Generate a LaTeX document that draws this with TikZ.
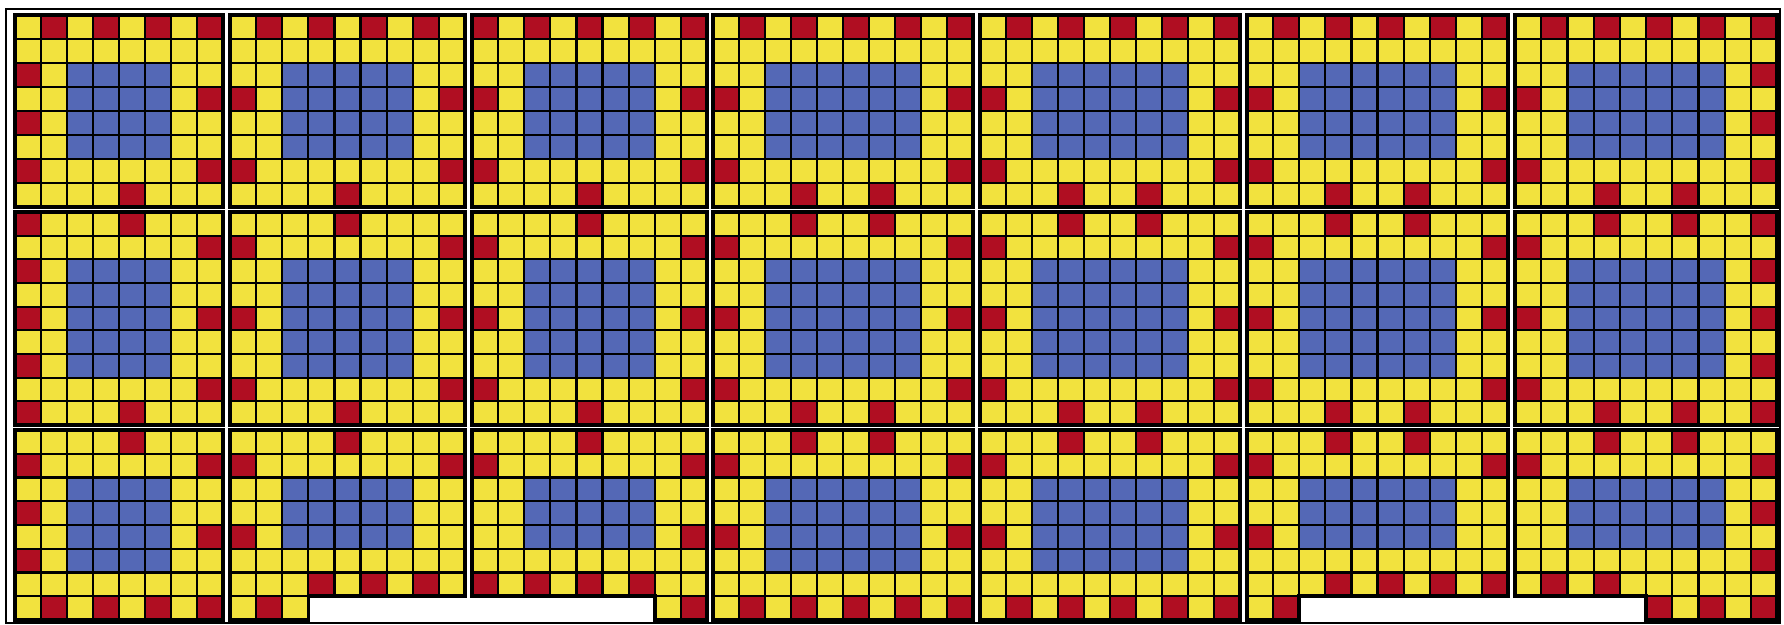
\documentclass[tikz,border=0pt]{standalone}
\definecolor{cY}{RGB}{242,226,62}
\definecolor{cR}{RGB}{176,14,34}
\definecolor{cB}{RGB}{84,104,182}
\tikzset{
  cellline/.style={draw=black,line width=1.1pt},
  pframe/.style={draw=black,line width=1.8pt},
  outerframe/.style={draw=black,line width=1pt}
}
% #1 x0, #2 y0, #3 dx, #4 dy, #5 rows
\newcommand\cells[5]{%
 \foreach \row [count=\ri from 0] in {#5}{%
  \foreach \c [count=\ci from 0] in \row {%
   \if\c N\else
    \edef\cn{c\c}%
    \filldraw[cellline,fill=\cn] ({#1+\ci*#3},{#2+\ri*#4}) rectangle ++(#3,#4);
   \fi
  }%
 }%
}
\begin{document}
\begin{tikzpicture}[x=0.5pt,y=-0.5pt]
\fill[white] (0,0) rectangle (1784,625);
\useasboundingbox (0,0) rectangle (1784,625);
\draw[outerframe] (6,9) rectangle (1780,623);

% ================= ROW 1 =================
\cells{15}{15}{26}{24}{
{Y,R,Y,R,Y,R,Y,R},
{Y,Y,Y,Y,Y,Y,Y,Y},
{R,Y,B,B,B,B,Y,Y},
{Y,Y,B,B,B,B,Y,R},
{R,Y,B,B,B,B,Y,Y},
{Y,Y,B,B,B,B,Y,Y},
{R,Y,Y,Y,Y,Y,Y,R},
{Y,Y,Y,Y,R,Y,Y,Y}}
\draw[pframe] (15,15) rectangle (223,207);

\cells{230}{15}{26.111}{24}{
{Y,R,Y,R,Y,R,Y,R,Y},
{Y,Y,Y,Y,Y,Y,Y,Y,Y},
{Y,Y,B,B,B,B,B,Y,Y},
{R,Y,B,B,B,B,B,Y,R},
{Y,Y,B,B,B,B,B,Y,Y},
{Y,Y,B,B,B,B,B,Y,Y},
{R,Y,Y,Y,Y,Y,Y,Y,R},
{Y,Y,Y,Y,R,Y,Y,Y,Y}}
\draw[pframe] (230,15) rectangle (465,207);

\cells{472}{15}{26.111}{24}{
{R,Y,R,Y,R,Y,R,Y,R},
{Y,Y,Y,Y,Y,Y,Y,Y,Y},
{Y,Y,B,B,B,B,B,Y,Y},
{R,Y,B,B,B,B,B,Y,R},
{Y,Y,B,B,B,B,B,Y,Y},
{Y,Y,B,B,B,B,B,Y,Y},
{R,Y,Y,Y,Y,Y,Y,Y,R},
{Y,Y,Y,Y,R,Y,Y,Y,Y}}
\draw[pframe] (472,15) rectangle (707,207);

\cells{713}{15}{26}{24}{
{Y,R,Y,R,Y,R,Y,R,Y,R},
{Y,Y,Y,Y,Y,Y,Y,Y,Y,Y},
{Y,Y,B,B,B,B,B,B,Y,Y},
{R,Y,B,B,B,B,B,B,Y,R},
{Y,Y,B,B,B,B,B,B,Y,Y},
{Y,Y,B,B,B,B,B,B,Y,Y},
{R,Y,Y,Y,Y,Y,Y,Y,Y,R},
{Y,Y,Y,R,Y,Y,R,Y,Y,Y}}
\draw[pframe] (713,15) rectangle (973,207);

\cells{980}{15}{26}{24}{
{Y,R,Y,R,Y,R,Y,R,Y,R},
{Y,Y,Y,Y,Y,Y,Y,Y,Y,Y},
{Y,Y,B,B,B,B,B,B,Y,Y},
{R,Y,B,B,B,B,B,B,Y,R},
{Y,Y,B,B,B,B,B,B,Y,Y},
{Y,Y,B,B,B,B,B,B,Y,Y},
{R,Y,Y,Y,Y,Y,Y,Y,Y,R},
{Y,Y,Y,R,Y,Y,R,Y,Y,Y}}
\draw[pframe] (980,15) rectangle (1240,207);

\cells{1247}{15}{26.1}{24}{
{Y,R,Y,R,Y,R,Y,R,Y,R},
{Y,Y,Y,Y,Y,Y,Y,Y,Y,Y},
{Y,Y,B,B,B,B,B,B,Y,Y},
{R,Y,B,B,B,B,B,B,Y,R},
{Y,Y,B,B,B,B,B,B,Y,Y},
{Y,Y,B,B,B,B,B,B,Y,Y},
{R,Y,Y,Y,Y,Y,Y,Y,Y,R},
{Y,Y,Y,R,Y,Y,R,Y,Y,Y}}
\draw[pframe] (1247,15) rectangle (1508,207);

\cells{1515}{15}{26.2}{24}{
{Y,R,Y,R,Y,R,Y,R,Y,R},
{Y,Y,Y,Y,Y,Y,Y,Y,Y,Y},
{Y,Y,B,B,B,B,B,B,Y,R},
{R,Y,B,B,B,B,B,B,Y,Y},
{Y,Y,B,B,B,B,B,B,Y,R},
{Y,Y,B,B,B,B,B,B,Y,Y},
{R,Y,Y,Y,Y,Y,Y,Y,Y,R},
{Y,Y,Y,R,Y,Y,R,Y,Y,Y}}
\draw[pframe] (1515,15) rectangle (1777,207);

% ================= ROW 2 =================
\cells{15}{212}{26}{23.667}{
{R,Y,Y,Y,R,Y,Y,Y},
{Y,Y,Y,Y,Y,Y,Y,R},
{R,Y,B,B,B,B,Y,Y},
{Y,Y,B,B,B,B,Y,Y},
{R,Y,B,B,B,B,Y,R},
{Y,Y,B,B,B,B,Y,Y},
{R,Y,B,B,B,B,Y,Y},
{Y,Y,Y,Y,Y,Y,Y,R},
{R,Y,Y,Y,R,Y,Y,Y}}
\draw[pframe] (15,212) rectangle (223,425);

\cells{230}{212}{26.111}{23.667}{
{Y,Y,Y,Y,R,Y,Y,Y,Y},
{R,Y,Y,Y,Y,Y,Y,Y,R},
{Y,Y,B,B,B,B,B,Y,Y},
{Y,Y,B,B,B,B,B,Y,Y},
{R,Y,B,B,B,B,B,Y,R},
{Y,Y,B,B,B,B,B,Y,Y},
{Y,Y,B,B,B,B,B,Y,Y},
{R,Y,Y,Y,Y,Y,Y,Y,R},
{Y,Y,Y,Y,R,Y,Y,Y,Y}}
\draw[pframe] (230,212) rectangle (465,425);

\cells{472}{212}{26.111}{23.667}{
{Y,Y,Y,Y,R,Y,Y,Y,Y},
{R,Y,Y,Y,Y,Y,Y,Y,R},
{Y,Y,B,B,B,B,B,Y,Y},
{Y,Y,B,B,B,B,B,Y,Y},
{R,Y,B,B,B,B,B,Y,R},
{Y,Y,B,B,B,B,B,Y,Y},
{Y,Y,B,B,B,B,B,Y,Y},
{R,Y,Y,Y,Y,Y,Y,Y,R},
{Y,Y,Y,Y,R,Y,Y,Y,Y}}
\draw[pframe] (472,212) rectangle (707,425);

\cells{713}{212}{26}{23.667}{
{Y,Y,Y,R,Y,Y,R,Y,Y,Y},
{R,Y,Y,Y,Y,Y,Y,Y,Y,R},
{Y,Y,B,B,B,B,B,B,Y,Y},
{Y,Y,B,B,B,B,B,B,Y,Y},
{R,Y,B,B,B,B,B,B,Y,R},
{Y,Y,B,B,B,B,B,B,Y,Y},
{Y,Y,B,B,B,B,B,B,Y,Y},
{R,Y,Y,Y,Y,Y,Y,Y,Y,R},
{Y,Y,Y,R,Y,Y,R,Y,Y,Y}}
\draw[pframe] (713,212) rectangle (973,425);

\cells{980}{212}{26}{23.667}{
{Y,Y,Y,R,Y,Y,R,Y,Y,Y},
{R,Y,Y,Y,Y,Y,Y,Y,Y,R},
{Y,Y,B,B,B,B,B,B,Y,Y},
{Y,Y,B,B,B,B,B,B,Y,Y},
{R,Y,B,B,B,B,B,B,Y,R},
{Y,Y,B,B,B,B,B,B,Y,Y},
{Y,Y,B,B,B,B,B,B,Y,Y},
{R,Y,Y,Y,Y,Y,Y,Y,Y,R},
{Y,Y,Y,R,Y,Y,R,Y,Y,Y}}
\draw[pframe] (980,212) rectangle (1240,425);

\cells{1247}{212}{26.1}{23.667}{
{Y,Y,Y,R,Y,Y,R,Y,Y,Y},
{R,Y,Y,Y,Y,Y,Y,Y,Y,R},
{Y,Y,B,B,B,B,B,B,Y,Y},
{Y,Y,B,B,B,B,B,B,Y,Y},
{R,Y,B,B,B,B,B,B,Y,R},
{Y,Y,B,B,B,B,B,B,Y,Y},
{Y,Y,B,B,B,B,B,B,Y,Y},
{R,Y,Y,Y,Y,Y,Y,Y,Y,R},
{Y,Y,Y,R,Y,Y,R,Y,Y,Y}}
\draw[pframe] (1247,212) rectangle (1508,425);

\cells{1515}{212}{26.2}{23.667}{
{Y,Y,Y,R,Y,Y,R,Y,Y,R},
{R,Y,Y,Y,Y,Y,Y,Y,Y,Y},
{Y,Y,B,B,B,B,B,B,Y,R},
{Y,Y,B,B,B,B,B,B,Y,Y},
{R,Y,B,B,B,B,B,B,Y,R},
{Y,Y,B,B,B,B,B,B,Y,Y},
{Y,Y,B,B,B,B,B,B,Y,R},
{R,Y,Y,Y,Y,Y,Y,Y,Y,Y},
{Y,Y,Y,R,Y,Y,R,Y,Y,R}}
\draw[pframe] (1515,212) rectangle (1777,425);

% ================= ROW 3 =================
\cells{15}{430}{26}{23.75}{
{Y,Y,Y,Y,R,Y,Y,Y},
{R,Y,Y,Y,Y,Y,Y,R},
{Y,Y,B,B,B,B,Y,Y},
{R,Y,B,B,B,B,Y,Y},
{Y,Y,B,B,B,B,Y,R},
{R,Y,B,B,B,B,Y,Y},
{Y,Y,Y,Y,Y,Y,Y,Y},
{Y,R,Y,R,Y,R,Y,R}}
\draw[pframe] (15,430) rectangle (223,620);

\cells{230}{430}{26.111}{23.75}{
{Y,Y,Y,Y,R,Y,Y,Y,Y},
{R,Y,Y,Y,Y,Y,Y,Y,R},
{Y,Y,B,B,B,B,B,Y,Y},
{Y,Y,B,B,B,B,B,Y,Y},
{R,Y,B,B,B,B,B,Y,Y},
{Y,Y,Y,Y,Y,Y,Y,Y,Y},
{Y,Y,Y,R,Y,R,Y,R,Y},
{Y,R,Y,N,N,N,N,N,N}}
\draw[pframe] (230,430) -- (465,430) -- (465,596.25) -- (308.33,596.25) -- (308.33,620) -- (230,620) -- cycle;

\cells{472}{430}{26.111}{23.75}{
{Y,Y,Y,Y,R,Y,Y,Y,Y},
{R,Y,Y,Y,Y,Y,Y,Y,R},
{Y,Y,B,B,B,B,B,Y,Y},
{Y,Y,B,B,B,B,B,Y,Y},
{Y,Y,B,B,B,B,B,Y,R},
{Y,Y,Y,Y,Y,Y,Y,Y,Y},
{R,Y,R,Y,R,Y,R,Y,Y},
{N,N,N,N,N,N,N,Y,R}}
\draw[pframe] (472,430) -- (707,430) -- (707,620) -- (654.78,620) -- (654.78,596.25) -- (472,596.25) -- cycle;

\cells{713}{430}{26}{23.75}{
{Y,Y,Y,R,Y,Y,R,Y,Y,Y},
{R,Y,Y,Y,Y,Y,Y,Y,Y,R},
{Y,Y,B,B,B,B,B,B,Y,Y},
{Y,Y,B,B,B,B,B,B,Y,Y},
{R,Y,B,B,B,B,B,B,Y,R},
{Y,Y,B,B,B,B,B,B,Y,Y},
{Y,Y,Y,Y,Y,Y,Y,Y,Y,Y},
{Y,R,Y,R,Y,R,Y,R,Y,R}}
\draw[pframe] (713,430) rectangle (973,620);

\cells{980}{430}{26}{23.75}{
{Y,Y,Y,R,Y,Y,R,Y,Y,Y},
{R,Y,Y,Y,Y,Y,Y,Y,Y,R},
{Y,Y,B,B,B,B,B,B,Y,Y},
{Y,Y,B,B,B,B,B,B,Y,Y},
{R,Y,B,B,B,B,B,B,Y,R},
{Y,Y,B,B,B,B,B,B,Y,Y},
{Y,Y,Y,Y,Y,Y,Y,Y,Y,Y},
{Y,R,Y,R,Y,R,Y,R,Y,R}}
\draw[pframe] (980,430) rectangle (1240,620);

\cells{1247}{430}{26.1}{23.75}{
{Y,Y,Y,R,Y,Y,R,Y,Y,Y},
{R,Y,Y,Y,Y,Y,Y,Y,Y,R},
{Y,Y,B,B,B,B,B,B,Y,Y},
{Y,Y,B,B,B,B,B,B,Y,Y},
{R,Y,B,B,B,B,B,B,Y,Y},
{Y,Y,Y,Y,Y,Y,Y,Y,Y,Y},
{Y,Y,Y,R,Y,R,Y,R,Y,R},
{Y,R,N,N,N,N,N,N,N,N}}
\draw[pframe] (1247,430) -- (1508,430) -- (1508,596.25) -- (1299.2,596.25) -- (1299.2,620) -- (1247,620) -- cycle;

\cells{1515}{430}{26.2}{23.75}{
{Y,Y,Y,R,Y,Y,R,Y,Y,Y},
{R,Y,Y,Y,Y,Y,Y,Y,Y,R},
{Y,Y,B,B,B,B,B,B,Y,Y},
{Y,Y,B,B,B,B,B,B,Y,R},
{Y,Y,B,B,B,B,B,B,Y,Y},
{Y,Y,Y,Y,Y,Y,Y,Y,Y,R},
{Y,R,Y,R,Y,Y,Y,Y,Y,Y},
{N,N,N,N,N,R,Y,R,Y,R}}
\draw[pframe] (1515,430) -- (1777,430) -- (1777,620) -- (1646,620) -- (1646,596.25) -- (1515,596.25) -- cycle;
\end{tikzpicture}
\end{document}
